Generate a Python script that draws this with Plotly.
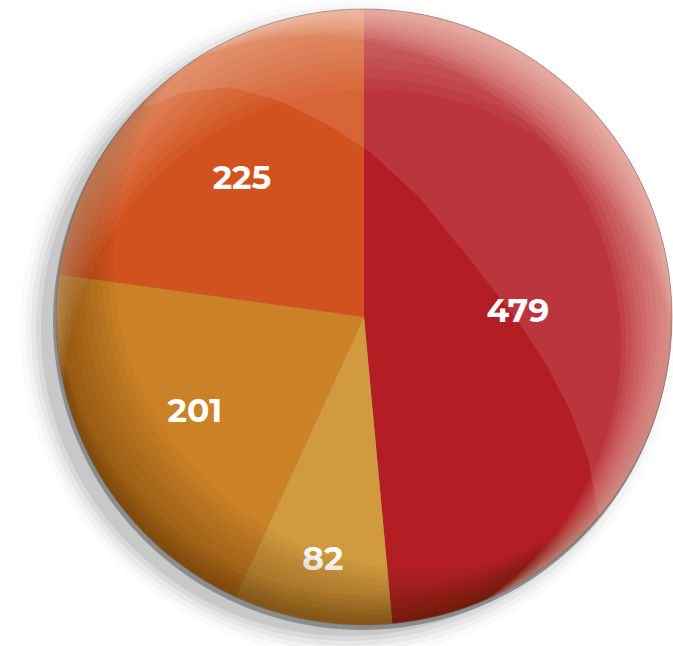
import numpy as np
import plotly.graph_objects as go

# ---- data ----
labels = ["A", "B", "C", "D"]
values = [479, 82, 201, 225]
colors = ["#b31e25", "#d19a3f", "#cb8226", "#d2521f"]

# ---- geometry (pixels) ----
W, H = 673, 646
cx, cy, R = 364, 317, 308


def P(px, py):
    return px / W, 1 - py / H


def poly_path(pts):
    s = []
    for i, (px, py) in enumerate(pts):
        x, y = P(px, py)
        s.append(("M" if i == 0 else "L") + f"{x:.5f},{y:.5f}")
    return " ".join(s) + " Z"


def circle_shape(px, py, r, fill, line=None, layer="below", lw=0):
    x0, y1 = P(px - r, py - r)
    x1, y0 = P(px + r, py + r)
    return dict(type="circle", xref="paper", yref="paper", x0=x0, x1=x1, y0=y0, y1=y1,
                fillcolor=fill, line=dict(color=line or "rgba(0,0,0,0)", width=lw), layer=layer)


def crescent(dx, dy, rin=R):
    # region inside main circle but outside a circle shifted by (dx,dy)
    ang = np.radians(np.arange(0, 360, 0.5))
    ox, oy = cx + R * np.cos(ang), cy + R * np.sin(ang)
    out = np.hypot(ox - (cx + dx), oy - (cy + dy)) > rin
    n = len(ang)
    start = None
    for i in range(n):
        if out[i] and not out[i - 1]:
            start = i
            break
    idx = []
    i = start
    while out[i % n]:
        idx.append(i % n)
        i += 1
        if len(idx) > n:
            break
    pts = [(ox[k], oy[k]) for k in idx]
    sx, sy = pts[0]
    ex, ey = pts[-1]
    icx, icy = cx + dx, cy + dy
    aE = np.arctan2(ey - icy, ex - icx)
    aS = np.arctan2(sy - icy, sx - icx)
    best = None
    for direction in (1, -1):
        span = (aS - aE) % (2 * np.pi) if direction == 1 else -((aE - aS) % (2 * np.pi))
        ts = aE + np.linspace(0, span, 200)
        ix, iy = icx + rin * np.cos(ts), icy + rin * np.sin(ts)
        mid = len(ts) // 2
        if np.hypot(ix[mid] - cx, iy[mid] - cy) < R:
            best = list(zip(ix, iy))
    return pts + best


def grad_crescent(ux, uy, dmax, steps, rgb, alpha):
    out = []
    for k in range(1, steps + 1):
        d = dmax * k / steps
        out.append(dict(type="path", xref="paper", yref="paper",
                        path=poly_path(crescent(ux * d, uy * d)),
                        fillcolor=f"rgba({rgb},{alpha})", line=dict(width=0), layer="above"))
    return out


shapes = []
# drop shadow (down-left)
for k, a in [(26, 0.02), (20, 0.03), (15, 0.045), (10, 0.06), (5, 0.08)]:
    shapes.append(circle_shape(cx - 16, cy + 12, R + k - 6, f"rgba(0,0,0,{a})"))
# grey rim / side of the button
shapes.append(circle_shape(cx - 2, cy + 4, R + 1, "#8c8c8c"))

# gloss region (upper right)
arc = [(147, 108), (180, 93), (230, 87), (280, 101), (330, 126), (370, 152), (420, 198),
       (472, 262), (520, 324), (547, 366), (570, 410), (588, 458), (598, 512)]
a_end = np.arctan2(arc[-1][1] - cy, arc[-1][0] - cx)
a_start = np.arctan2(arc[0][1] - cy, arc[0][0] - cx)
if a_start > a_end:
    a_start -= 2 * np.pi
ts = np.linspace(a_end, a_start, 120)
gloss = arc + [(cx + R * np.cos(t), cy + R * np.sin(t)) for t in ts]
shapes.append(dict(type="path", xref="paper", yref="paper", path=poly_path(gloss),
                   fillcolor="rgba(255,255,255,0.11)", line=dict(width=0), layer="above"))

# dark vignette toward bottom-left (soft)
shapes += grad_crescent(0.72, -0.69, 80, 10, "70,35,5", 0.05)
# bottom darkening
shapes += grad_crescent(0.0, -1.0, 30, 6, "60,20,10", 0.035)
# top light band (soft)
shapes += grad_crescent(0.1, 1.0, 80, 8, "255,235,220", 0.05)
# right highlight rim (soft)
shapes += grad_crescent(-0.85, 0.45, 60, 10, "255,225,215", 0.07)
# thin outline
shapes.append(circle_shape(cx, cy, R, "rgba(0,0,0,0)", line="rgba(110,110,110,0.5)", layer="above", lw=1))

fig = go.Figure(go.Pie(
    labels=labels, values=values, sort=False, direction="clockwise", rotation=0,
    marker=dict(colors=colors, line=dict(width=0)),
    textinfo="value", textposition="inside", insidetextorientation="horizontal",
    textfont=dict(family="Montserrat, 'Open Sans', sans-serif", size=33, color="white", weight="bold"),
    domain=dict(x=[(cx - R) / W, (cx + R) / W], y=[1 - (cy + R) / H, 1 - (cy - R) / H]),
    showlegend=False, hoverinfo="label+value",
))
fig.update_layout(width=W, height=H, margin=dict(l=0, r=0, t=0, b=0),
                  paper_bgcolor="white", plot_bgcolor="white", shapes=shapes)
fig.write_html("out.html")
